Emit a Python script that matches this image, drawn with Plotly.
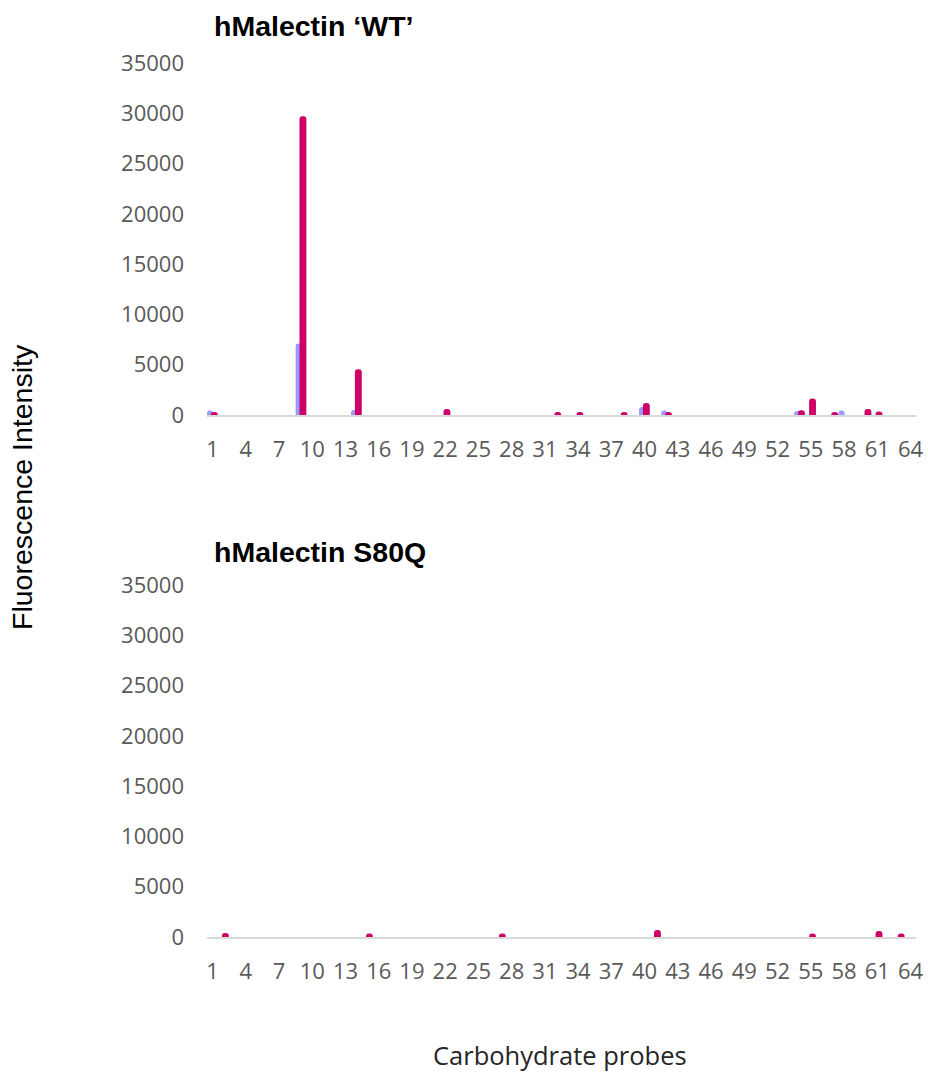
import plotly.graph_objects as go

# Carbohydrate probe numbers (x categories) and the labelled ticks
probes = list(range(1, 65))
tick_probes = list(range(1, 65, 3))
y_ticks = [0, 5000, 10000, 15000, 20000, 25000, 30000, 35000]

# Fluorescence intensity per probe, hMalectin 'WT'
wt_blue_nonzero = {1: 450, 9: 7100, 14: 500, 40: 800, 42: 450, 54: 400, 58: 450}
wt_magenta_nonzero = {1: 300, 9: 29700, 14: 4550, 22: 600, 32: 300, 34: 300,
                      38: 300, 40: 1200, 42: 300, 54: 480, 55: 1650, 57: 300,
                      60: 600, 61: 350}

# Fluorescence intensity per probe, hMalectin S80Q
s80q_blue_nonzero = {}
s80q_magenta_nonzero = {2: 400, 15: 350, 27: 350, 41: 700, 55: 350, 61: 600, 63: 350}


def expand(d):
    return [d.get(p, 0) for p in probes]


wt_blue = expand(wt_blue_nonzero)
wt_magenta = expand(wt_magenta_nonzero)
s80q_blue = expand(s80q_blue_nonzero)
s80q_magenta = expand(s80q_magenta_nonzero)

BLUE = "#9999FF"
MAGENTA = "#CC0066"
W, H = 928, 1075


def px_x(x):
    return x / W


def px_y(y):
    return (H - y) / H


fig = go.Figure()

panels = [
    (wt_blue, wt_magenta, "x", "y"),
    (s80q_blue, s80q_magenta, "x2", "y2"),
]
for blue, magenta, xa, ya in panels:
    fig.add_trace(go.Bar(x=probes, y=blue, xaxis=xa, yaxis=ya,
                         offset=-0.5, width=0.55,
                         marker=dict(color=BLUE, cornerradius="50%", line=dict(width=0)),
                         showlegend=False, hoverinfo="x+y"))
    fig.add_trace(go.Bar(x=probes, y=magenta, xaxis=xa, yaxis=ya,
                         offset=-0.15, width=0.62,
                         marker=dict(color=MAGENTA, cornerradius="50%", line=dict(width=0)),
                         showlegend=False, hoverinfo="x+y"))

tick_font = dict(family="Open Sans", size=22, color="#595959")

xaxis_common = dict(
    range=[0.5, 64.5], tickmode="array", tickvals=tick_probes,
    ticktext=[str(t) for t in tick_probes],
    showgrid=False, zeroline=False, showline=True, linecolor="#D9D9D9",
    linewidth=2, ticks="", tickfont=tick_font, ticklabelstandoff=14,
    automargin=False,
    domain=[px_x(207), px_x(916)],
)
yaxis_common = dict(
    range=[0, 35000], tickmode="array", tickvals=y_ticks, tickformat="d",
    showgrid=False, zeroline=False, showline=False, ticks="",
    tickfont=tick_font, ticklabelstandoff=22, automargin=False,
)

fig.update_layout(
    template="none",
    width=W, height=H,
    margin=dict(l=0, r=0, t=0, b=0),
    paper_bgcolor="white", plot_bgcolor="white",
    barmode="overlay",
    xaxis=dict(**xaxis_common, anchor="y"),
    yaxis=dict(**yaxis_common, domain=[px_y(415), px_y(63)], anchor="x"),
    xaxis2=dict(**xaxis_common, anchor="y2"),
    yaxis2=dict(**yaxis_common, domain=[px_y(937), px_y(585)], anchor="x2"),
    annotations=[
        dict(text="<b>hMalectin ‘WT’</b>", x=px_x(212), y=px_y(26),
             xref="paper", yref="paper", xanchor="left", yanchor="middle",
             showarrow=False, font=dict(family="Liberation Sans", size=28.5, color="black")),
        dict(text="<b>hMalectin S80Q</b>", x=px_x(212), y=px_y(552),
             xref="paper", yref="paper", xanchor="left", yanchor="middle",
             showarrow=False, font=dict(family="Liberation Sans", size=28.5, color="black")),
        dict(text="Fluorescence Intensity", x=px_x(22), y=px_y(487),
             xref="paper", yref="paper", xanchor="center", yanchor="middle",
             textangle=-90, showarrow=False,
             font=dict(family="Liberation Sans", size=28.5, color="black")),
        dict(text="Carbohydrate probes", x=px_x(560), y=px_y(1055),
             xref="paper", yref="paper", xanchor="center", yanchor="middle",
             showarrow=False, font=dict(family="Open Sans", size=25.5, color="#262626")),
    ],
)

fig.write_html("out.html")
